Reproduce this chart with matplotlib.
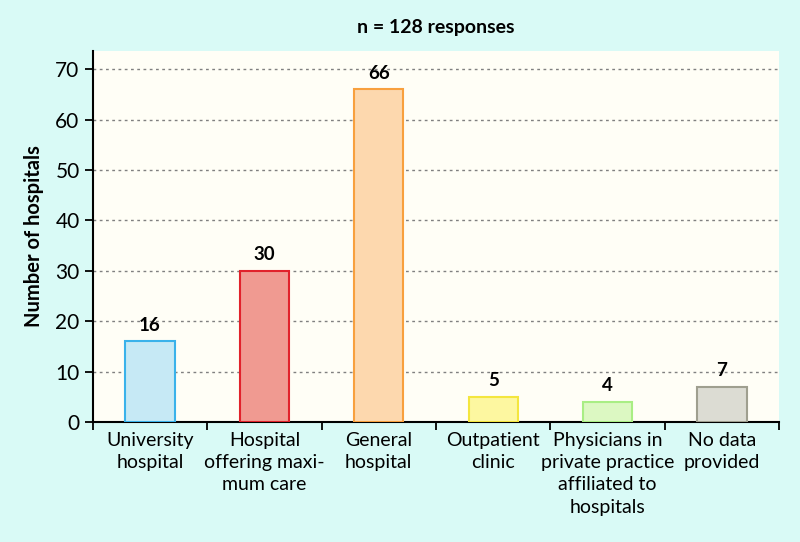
import numpy as np
import matplotlib.pyplot as plt

categories = ["University\nhospital", "Hospital\noffering maxi-\nmum care", "General\nhospital",
              "Outpatient\nclinic", "Physicians in\nprivate practice\naffiliated to\nhospitals",
              "No data\nprovided"]
counts = [16, 30, 66, 5, 4, 7]
fills = ["#c6e9f5", "#f09a91", "#fdd8ae", "#fdf7a0", "#dcf8c2", "#dcdcd3"]
edges = ["#3ab2ea", "#e1222b", "#f8a03e", "#f4e63e", "#a9ee84", "#9f9f8f"]
yticks = [0, 10, 20, 30, 40, 50, 60, 70]

plt.rcParams['font.family'] = ['Lato', 'DejaVu Sans']

fig = plt.figure(figsize=(8, 5.42), dpi=100, facecolor="#d9faf6")
ax = fig.add_axes([0.116, 0.2214, 0.858, 0.6846])
ax.set_facecolor("#fffef6")

x = np.arange(len(counts))
ax.bar(x, counts, width=0.43, color=fills, edgecolor=edges, linewidth=1.5, zorder=3)
for xi, v in zip(x, counts):
    ax.text(xi, v + 1.5, str(v), ha="center", va="bottom", fontsize=13.5, fontweight="bold", zorder=4)

ax.set_xlim(-0.5, len(counts) - 0.5)
ax.set_ylim(0, 73.6)
ax.set_yticks(yticks)
ax.tick_params(axis="y", labelsize=15, length=6, width=1.3, direction="out")
for t in yticks[1:]:
    ax.axhline(t, color="#808080", linestyle=(0, (2, 2.5)), linewidth=1, zorder=1)

# boundary ticks on the x axis, labels at the centres
ax.set_xticks(np.arange(len(counts) + 1) - 0.5)
ax.set_xticklabels([])
ax.tick_params(axis="x", length=6, width=1.3, direction="out")
ax.set_xticks(x, minor=True)
ax.set_xticklabels(categories, minor=True, fontsize=14, linespacing=1.38)
ax.tick_params(axis="x", which="minor", length=0, pad=7)

for s in ["top", "right"]:
    ax.spines[s].set_visible(False)
for s in ["left", "bottom"]:
    ax.spines[s].set_linewidth(1.5)

ax.set_ylabel("Number of hospitals", fontsize=14.5, fontweight="bold", labelpad=8)
fig.text(0.545, 0.95, "n = 128 responses", ha="center", va="center", fontsize=14, fontweight="bold")

fig.savefig("out.png", dpi=100, facecolor=fig.get_facecolor())
